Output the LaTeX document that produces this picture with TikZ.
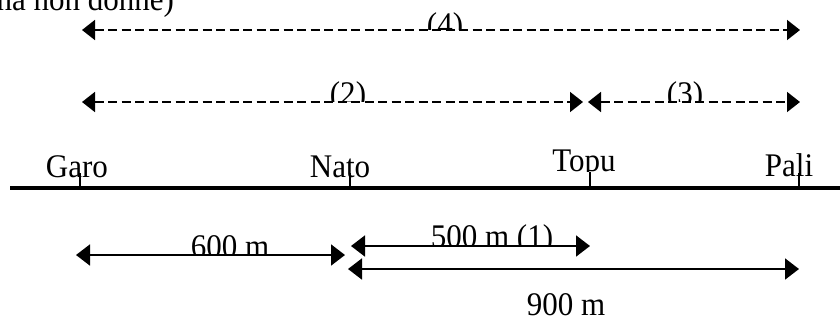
\documentclass[tikz,border=0pt]{standalone}
\usepackage{fontspec}
\setmainfont{Liberation Serif}[FakeStretch=0.94]
\usetikzlibrary{arrows.meta}
\begin{document}
\begin{tikzpicture}[x=1pt,y=-1pt,
  lbl/.style={inner sep=0pt,outer sep=0pt,font=\fontsize{33}{38}\selectfont},
  dimdash/.style={dash pattern=on 9pt off 4.5pt, line width=1.8pt,
    {Triangle[length=13pt,width=20pt]}-{Triangle[length=13pt,width=20pt]}},
  dimsolid/.style={line width=1.8pt,
    {Triangle[length=14pt,width=21pt]}-{Triangle[length=14pt,width=21pt]}},
  tickmark/.style={line width=2pt},
  axisline/.style={line width=3.5pt}]
\useasboundingbox (0,0) rectangle (840,322);
\clip (0,0) rectangle (840,322);

% top clipped text
\node[lbl,anchor=base east] (top) at (174,10) {na non donné)};

% axis
\coordinate (A0) at (10,188);
\coordinate (A1) at (850,188);
\draw[axisline] (A0) -- (A1);

% ticks
\coordinate (g0) at (80,173);  \coordinate (g1) at (80,188);
\coordinate (n0) at (350,173); \coordinate (n1) at (350,188);
\coordinate (t0) at (590,172); \coordinate (t1) at (590,188);
\coordinate (p0) at (799,173); \coordinate (p1) at (799,188);
\draw[tickmark] (g0) -- (g1);
\draw[tickmark] (n0) -- (n1);
\draw[tickmark] (t0) -- (t1);
\draw[tickmark] (p0) -- (p1);

% town names
\node[lbl,anchor=base] (garo) at (77,177) {Garo};
\node[lbl,anchor=base] (nato) at (340,177) {Nato};
\node[lbl,anchor=base] (pali) at (789,176) {Pali};
\begin{scope}
  \clip (540,140) rectangle (630,171);
  \node[lbl,anchor=base] (topu) at (584,171.8) {Topu};
\end{scope}

% dashed arrows
\coordinate (d4a) at (82,30);  \coordinate (d4b) at (800,30);
\coordinate (d2a) at (82,102); \coordinate (d2b) at (583,102);
\coordinate (d3a) at (588,102); \coordinate (d3b) at (800,102);
\draw[dimdash] (d4a) -- (d4b);
\draw[dimdash] (d2a) -- (d2b);
\draw[dimdash] (d3a) -- (d3b);

\begin{scope}
  \clip (400,0) rectangle (490,29);
  \node[lbl,anchor=base] (l4) at (445,35.8) {(4)};
\end{scope}
\begin{scope}
  \clip (300,60) rectangle (400,101);
  \node[lbl,anchor=base] (l2) at (348,104.8) {(2)};
\end{scope}
\begin{scope}
  \clip (640,60) rectangle (730,101);
  \node[lbl,anchor=base] (l3) at (685,104.8) {(3)};
\end{scope}

% solid arrows
\coordinate (s6a) at (76,255);  \coordinate (s6b) at (345,255);
\coordinate (s5a) at (351,246); \coordinate (s5b) at (590,246);
\coordinate (s9a) at (348,269); \coordinate (s9b) at (799,269);
\draw[dimsolid] (s6a) -- (s6b);
\draw[dimsolid] (s5a) -- (s5b);
\draw[dimsolid] (s9a) -- (s9b);

\begin{scope}
  \clip (170,210) rectangle (290,254);
  \node[lbl,anchor=base] (l600) at (230,257.3) {600 m};
\end{scope}
\begin{scope}
  \clip (410,200) rectangle (575,245);
  \node[lbl,anchor=base] (l500) at (492,247.8) {500 m (1)};
\end{scope}
\node[lbl,anchor=base] (l900) at (566,315.5) {900 m};
\end{tikzpicture}
\end{document}
